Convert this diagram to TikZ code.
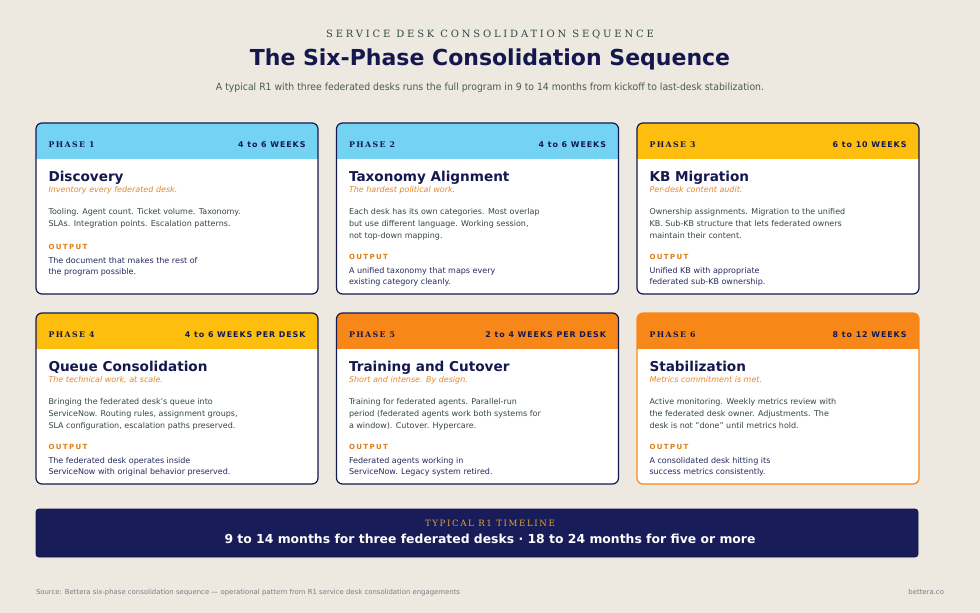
\documentclass[tikz,border=0pt]{standalone}
\usepackage{fontspec}
\setmainfont{DejaVu Sans}
\newfontfamily\kickerfont{DejaVu Serif}[LetterSpace=28]
\newfontfamily\phasefont{DejaVu Serif}[LetterSpace=18]
\newfontfamily\durfont{DejaVu Sans}[LetterSpace=12]
\newfontfamily\outfont{DejaVu Sans}[LetterSpace=20]
\newfontfamily\tlfont{DejaVu Serif}[LetterSpace=18]
\newfontfamily\condfont{DejaVu Sans}[FakeStretch=0.93]
\usetikzlibrary{calc}
\definecolor{bg}{HTML}{EDE9E0}
\definecolor{navy}{HTML}{15184F}
\definecolor{tlnavy}{HTML}{181C58}
\definecolor{gold}{HTML}{E0A526}
\definecolor{hblue}{HTML}{74D3F3}
\definecolor{hyellow}{HTML}{FDBE0D}
\definecolor{horange}{HTML}{F8871A}
\definecolor{accent}{HTML}{E8862A}
\definecolor{outorange}{HTML}{E07D12}
\definecolor{bodygray}{HTML}{364646}
\definecolor{outnavy}{HTML}{262A5E}
\definecolor{kicker}{HTML}{2E4A45}
\definecolor{subgray}{HTML}{4A5A55}
\definecolor{footgray}{HTML}{7D7A8C}
\newcommand\lines[1]{\begin{tabular}[t]{@{}l@{}}#1\end{tabular}}
\tikzset{
  every node/.style={inner sep=0pt, outer sep=0pt},
  cardbox/.style={line width=1.2pt, rounded corners=6pt, minimum width=282pt, minimum height=171pt, anchor=north west, rectangle},
  phaselbl/.style={anchor=base west, text=navy, font=\phasefont\bfseries\fontsize{7.8}{9}\selectfont},
  durlbl/.style={anchor=base east, text=navy, font=\durfont\bfseries\fontsize{7.9}{9}\selectfont},
  cardtitle/.style={anchor=base west, text=navy, font=\bfseries\fontsize{13.6}{16}\selectfont},
  cardsub/.style={anchor=base west, text=accent, font=\itshape\fontsize{8}{10}\selectfont},
  cardbody/.style={anchor=base west, text=bodygray, font=\fontsize{8}{12.2}\selectfont},
  outlbl/.style={anchor=base west, text=outorange, font=\outfont\bfseries\fontsize{7}{9}\selectfont},
  outbody/.style={anchor=base west, text=outnavy, font=\fontsize{8}{11}\selectfont},
}
% name, x, y, header colour, border colour, phase, duration
\newcommand\card[7]{%
  \begin{scope}
    \clip[rounded corners=6pt] (#2,#3) rectangle ++(282,171);
    \fill[white] (#2,#3) rectangle ++(282,171);
    \fill[#4] (#2,#3) rectangle ++(282,36);
  \end{scope}
  \node[cardbox, draw=#5] (#1) at (#2,#3) {};
  \node[phaselbl] (#1-ph) at ($(#1.north west)+(12.5,24)$) {#6};
  \node[durlbl] (#1-dur) at ($(#1.north east)+(-12.5,24)$) {#7};
}
% name, title, subtitle, body, output label offset, output
\newcommand\cardtext[6]{%
  \node[cardtitle] (#1-t) at ($(#1.north west)+(12.5,58)$) {#2};
  \node[cardsub] (#1-s) at ($(#1.north west)+(12.5,69)$) {#3};
  \node[cardbody] (#1-b) at ($(#1.north west)+(12.5,91.5)$) {\lines{#4}};
  \node[outlbl] (#1-o) at ($(#1.north west)+(12.5,#5)$) {OUTPUT};
  \node[outbody] (#1-ob) at ($(#1.north west)+(12.5,#5+14)$) {\lines{#6}};
}
\begin{document}
\begin{tikzpicture}[x=1pt, y=-1pt]
\fill[bg] (0,0) rectangle (980,613);
\useasboundingbox (0,0) rectangle (980,613);

\node[anchor=base, text=kicker, font=\kickerfont\fontsize{10}{12}\selectfont] (kick) at (490,37.7) {SERVICE DESK CONSOLIDATION SEQUENCE};
\node[anchor=base, text=navy, font=\bfseries\fontsize{22}{26}\selectfont] (title) at (490,65.7) {The Six-Phase Consolidation Sequence};
\node[anchor=base, text=subgray, font=\condfont\fontsize{10}{12}\selectfont] (sub) at (490,90.7) {A typical R1 with three federated desks runs the full program in 9 to 14 months from kickoff to last-desk stabilization.};

\card{c1}{36}{123}{hblue}{navy}{PHASE 1}{4 to 6 WEEKS}
\card{c2}{336.5}{123}{hblue}{navy}{PHASE 2}{4 to 6 WEEKS}
\card{c3}{637}{123}{hyellow}{navy}{PHASE 3}{6 to 10 WEEKS}
\card{c4}{36}{313}{hyellow}{navy}{PHASE 4}{4 to 6 WEEKS PER DESK}
\card{c5}{336.5}{313}{horange}{navy}{PHASE 5}{2 to 4 WEEKS PER DESK}
\card{c6}{637}{313}{horange}{horange}{PHASE 6}{8 to 12 WEEKS}

\cardtext{c1}{Discovery}{Inventory every federated desk.}{Tooling. Agent count. Ticket volume. Taxonomy.\\SLAs. Integration points. Escalation patterns.}{126.7}{The document that makes the rest of\\the program possible.}
\cardtext{c2}{Taxonomy Alignment}{The hardest political work.}{Each desk has its own categories. Most overlap\\but use different language. Working session,\\not top-down mapping.}{136.7}{A unified taxonomy that maps every\\existing category cleanly.}
\cardtext{c3}{KB Migration}{Per-desk content audit.}{Ownership assignments. Migration to the unified\\KB. Sub-KB structure that lets federated owners\\maintain their content.}{136.7}{Unified KB with appropriate\\federated sub-KB ownership.}
\cardtext{c4}{Queue Consolidation}{The technical work, at scale.}{Bringing the federated desk's queue into\\ServiceNow. Routing rules, assignment groups,\\SLA configuration, escalation paths preserved.}{136.7}{The federated desk operates inside\\ServiceNow with original behavior preserved.}
\cardtext{c5}{Training and Cutover}{Short and intense. By design.}{Training for federated agents. Parallel-run\\period (federated agents work both systems for\\a window). Cutover. Hypercare.}{136.7}{Federated agents working in\\ServiceNow. Legacy system retired.}
\cardtext{c6}{Stabilization}{Metrics commitment is met.}{Active monitoring. Weekly metrics review with\\the federated desk owner. Adjustments. The\\desk is not "done" until metrics hold.}{136.7}{A consolidated desk hitting its\\success metrics consistently.}

\node[draw=navy, fill=tlnavy, line width=0.8pt, rounded corners=3pt, anchor=north west, minimum width=882pt, minimum height=48pt] (tl) at (36,509) {};
\node[anchor=base, text=gold, font=\tlfont\fontsize{8.7}{10}\selectfont] (tl-l) at (490,526.7) {TYPICAL R1 TIMELINE};
\node[anchor=base, text=white, font=\bfseries\fontsize{12.4}{15}\selectfont] (tl-t) at (490,543.3) {9 to 14 months for three federated desks · 18 to 24 months for five or more};

\node[anchor=base west, text=footgray, font=\fontsize{6.9}{8}\selectfont] (src) at (36,594.7) {Source: Bettera six-phase consolidation sequence — operational pattern from R1 service desk consolidation engagements};
\node[anchor=base east, text=footgray, font=\fontsize{6.9}{8}\selectfont] (brand) at (944,594.7) {bettera.co};
\end{tikzpicture}
\end{document}
